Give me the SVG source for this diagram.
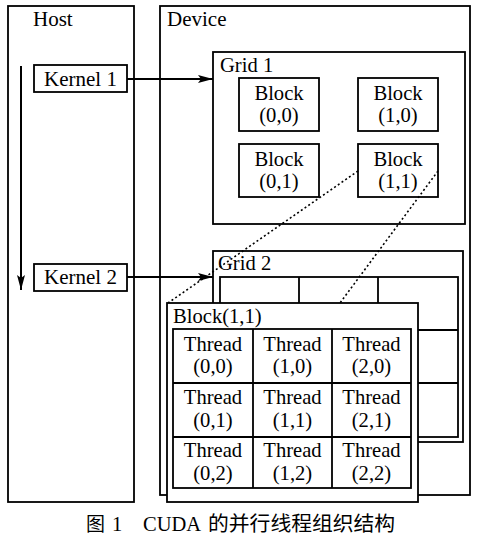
<svg xmlns="http://www.w3.org/2000/svg" width="477" height="537" viewBox="0 0 477 537">
<style>
.box{fill:#fff;stroke:#000;stroke-width:1.8}
.thin{fill:none;stroke:#000;stroke-width:1.8}
.t{font-family:"Liberation Serif","Times New Roman",serif;font-size:20.6px;fill:#000}
.h{font-size:21px}
.c{text-anchor:middle}
.cjk{font-family:"Liberation Serif","Noto Sans CJK SC",serif;fill:#000}
.arrow{fill:none;stroke:#000;stroke-width:2}
.dot{fill:none;stroke:#000;stroke-width:1.6;stroke-dasharray:2 2.5}
</style>
<defs>
<marker id="ah" viewBox="0 0 15 8" refX="15" refY="4" markerWidth="15" markerHeight="8" markerUnits="userSpaceOnUse" orient="auto">
<path d="M0,0 L15,4 L0,8 L3,4 z" fill="#000"/>
</marker>
</defs>
<rect width="477" height="537" fill="#fff"/>

<g id="host">
<rect class="box" x="8" y="6" width="126" height="496"/>
<text class="t h" x="33" y="26">Host</text>
</g>

<g id="device">
<rect class="box" x="160" y="6" width="310" height="489"/>
<text class="t h" x="167" y="26">Device</text>
</g>

<g id="kernel1">
<rect class="box" x="34" y="65" width="93" height="27"/>
<text class="t h c" x="80.5" y="86">Kernel 1</text>
</g>

<g id="kernel2">
<rect class="box" x="34" y="264" width="93" height="27"/>
<text class="t h c" x="80.5" y="284">Kernel 2</text>
</g>

<g id="grid1">
<rect class="box" x="213" y="52" width="252" height="172"/>
<text class="t" x="220" y="72">Grid 1</text>
</g>
<g id="g1-block00">
<rect class="box" x="239" y="78" width="80" height="53" stroke-width="2"/>
<text class="t c" x="279" y="100">Block</text>
<text class="t c" x="279" y="122">(0,0)</text>
</g>
<g id="g1-block10">
<rect class="box" x="358" y="78" width="80" height="53" stroke-width="2"/>
<text class="t c" x="398" y="100">Block</text>
<text class="t c" x="398" y="122">(1,0)</text>
</g>
<g id="g1-block01">
<rect class="box" x="239" y="144" width="80" height="53" stroke-width="2"/>
<text class="t c" x="279" y="166">Block</text>
<text class="t c" x="279" y="188">(0,1)</text>
</g>
<g id="g1-block11">
<rect class="box" x="358" y="144" width="80" height="53" stroke-width="2"/>
<text class="t c" x="398" y="166">Block</text>
<text class="t c" x="398" y="188">(1,1)</text>
</g>

<g id="grid2">
<rect class="box" x="213" y="251" width="250" height="191"/>
<text class="t" x="218" y="270">Grid 2</text>
<rect class="box" x="220" y="277" width="238" height="160" stroke-width="2"/>
<path class="thin" d="M299,277 V437 M378,277 V437 M220,330 H458 M220,383 H458"/>
</g>

<g id="connectors">
<line class="arrow" x1="21" y1="66" x2="21" y2="290" marker-end="url(#ah)"/>
<line class="arrow" x1="127" y1="79" x2="213" y2="79" marker-end="url(#ah)"/>
<line class="arrow" x1="127" y1="277" x2="213" y2="277" marker-end="url(#ah)"/>
<line class="dot" x1="358" y1="171" x2="168" y2="303"/>
<line class="dot" x1="438" y1="171" x2="340" y2="303"/>
</g>

<g id="block11-panel">
<rect class="box" x="167" y="303" width="251" height="199"/>
<text class="t" x="173" y="323">Block(1,1)</text>
<rect class="box" x="173" y="329" width="238" height="159" stroke-width="2"/>
<path class="thin" d="M253,329 V488 M332,329 V488 M173,383 H411 M173,437 H411"/>
</g>
<g id="thread00"><text class="t c" x="213" y="351">Thread</text><text class="t c" x="213" y="373">(0,0)</text></g>
<g id="thread10"><text class="t c" x="292.5" y="351">Thread</text><text class="t c" x="292.5" y="373">(1,0)</text></g>
<g id="thread20"><text class="t c" x="371.5" y="351">Thread</text><text class="t c" x="371.5" y="373">(2,0)</text></g>
<g id="thread01"><text class="t c" x="213" y="404">Thread</text><text class="t c" x="213" y="427">(0,1)</text></g>
<g id="thread11"><text class="t c" x="292.5" y="404">Thread</text><text class="t c" x="292.5" y="427">(1,1)</text></g>
<g id="thread21"><text class="t c" x="371.5" y="404">Thread</text><text class="t c" x="371.5" y="427">(2,1)</text></g>
<g id="thread02"><text class="t c" x="213" y="457">Thread</text><text class="t c" x="213" y="480">(0,2)</text></g>
<g id="thread12"><text class="t c" x="292.5" y="457">Thread</text><text class="t c" x="292.5" y="480">(1,2)</text></g>
<g id="thread22"><text class="t c" x="371.5" y="457">Thread</text><text class="t c" x="371.5" y="480">(2,2)</text></g>

<g id="caption">
<text class="cjk" y="531" font-size="20.5"><tspan x="86" font-size="19">图</tspan><tspan x="112">1</tspan><tspan x="143">CUDA</tspan><tspan x="208" font-size="20.8">的并行线程组织结构</tspan></text>
</g>
</svg>
